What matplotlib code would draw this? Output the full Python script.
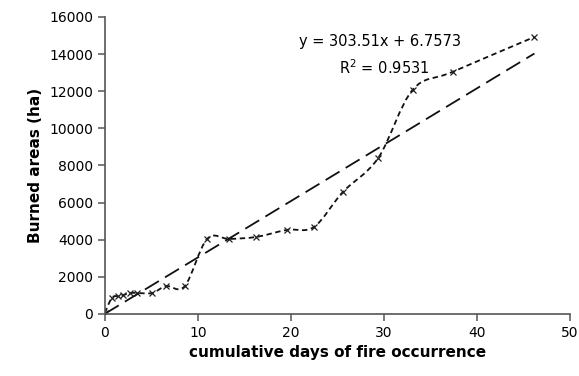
import numpy as np
import matplotlib
matplotlib.use('Agg')
import matplotlib.pyplot as plt
from matplotlib.path import Path
from matplotlib.patches import PathPatch

# 관측값 (누적 일수, 누적 연소 면적)
days = [0, 0.75, 1.4, 2.0, 2.7, 3.5, 5.1, 6.6, 8.6, 11.0, 13.4, 16.3, 19.6, 22.5,
        25.6, 29.4, 33.1, 37.4, 46.2]
burned = [50, 860, 970, 1020, 1130, 1130, 1130, 1500, 1500, 4040, 4040, 4150, 4530, 4690,
          6570, 8400, 12070, 13040, 14920]

# 선형 추세선 계수
slope = 303.51
intercept = 6.7573
r2 = 0.9531

x_ticks = [0, 10, 20, 30, 40, 50]
y_ticks = list(range(0, 16001, 2000))


def smooth_path(xs, ys, t=0.5):
    # Excel 스타일 부드러운 곡선 (Catmull-Rom -> 베지어)
    pts = np.column_stack([xs, ys])
    verts = [pts[0]]
    codes = [Path.MOVETO]
    n = len(pts)
    for i in range(n - 1):
        p0 = pts[i - 1] if i > 0 else pts[i]
        p1 = pts[i]
        p2 = pts[i + 1]
        p3 = pts[i + 2] if i + 2 < n else pts[i + 1]
        c1 = p1 + (p2 - p0) * t / 3
        c2 = p2 - (p3 - p1) * t / 3
        verts += [c1, c2, p2]
        codes += [Path.CURVE4] * 3
    return Path(verts, codes)


fig = plt.figure(figsize=(5.79, 3.76), dpi=100)
ax = fig.add_axes([0.181, 0.165, 0.803, 0.79])

# 관측 곡선
patch = PathPatch(smooth_path(days, burned), facecolor='none', edgecolor='#111111',
                  lw=1.3, linestyle=(0, (3, 2)))
ax.add_patch(patch)
ax.plot(days, burned, linestyle='none', marker='x', color='#222222', ms=4, mew=0.9)

# 추세선
xt = np.array([days[0], days[-1]])
ax.plot(xt, slope * xt + intercept, color='#111111', lw=1.3, linestyle=(0, (9, 4)))

ax.text(29.6, 14650, 'y = 303.51x + 6.7573', ha='center', va='center', fontsize=10.5)
ax.text(30.1, 13250, 'R$^2$ = 0.9531', ha='center', va='center', fontsize=10.5)

ax.set_xlim(0, 50)
ax.set_ylim(0, 16000)
ax.set_xticks(x_ticks)
ax.set_yticks(y_ticks)
ax.spines['top'].set_visible(False)
ax.spines['right'].set_visible(False)
for s in ['left', 'bottom']:
    ax.spines[s].set_color('#555555')
    ax.spines[s].set_linewidth(1.2)
ax.tick_params(direction='out', length=5, width=1.1, color='#555555', labelsize=10)
ax.set_xlabel('cumulative days of fire occurrence', fontsize=11, fontweight='bold')
ax.set_ylabel('Burned areas (ha)', fontsize=11, fontweight='bold')

fig.savefig('out.png', dpi=100)
